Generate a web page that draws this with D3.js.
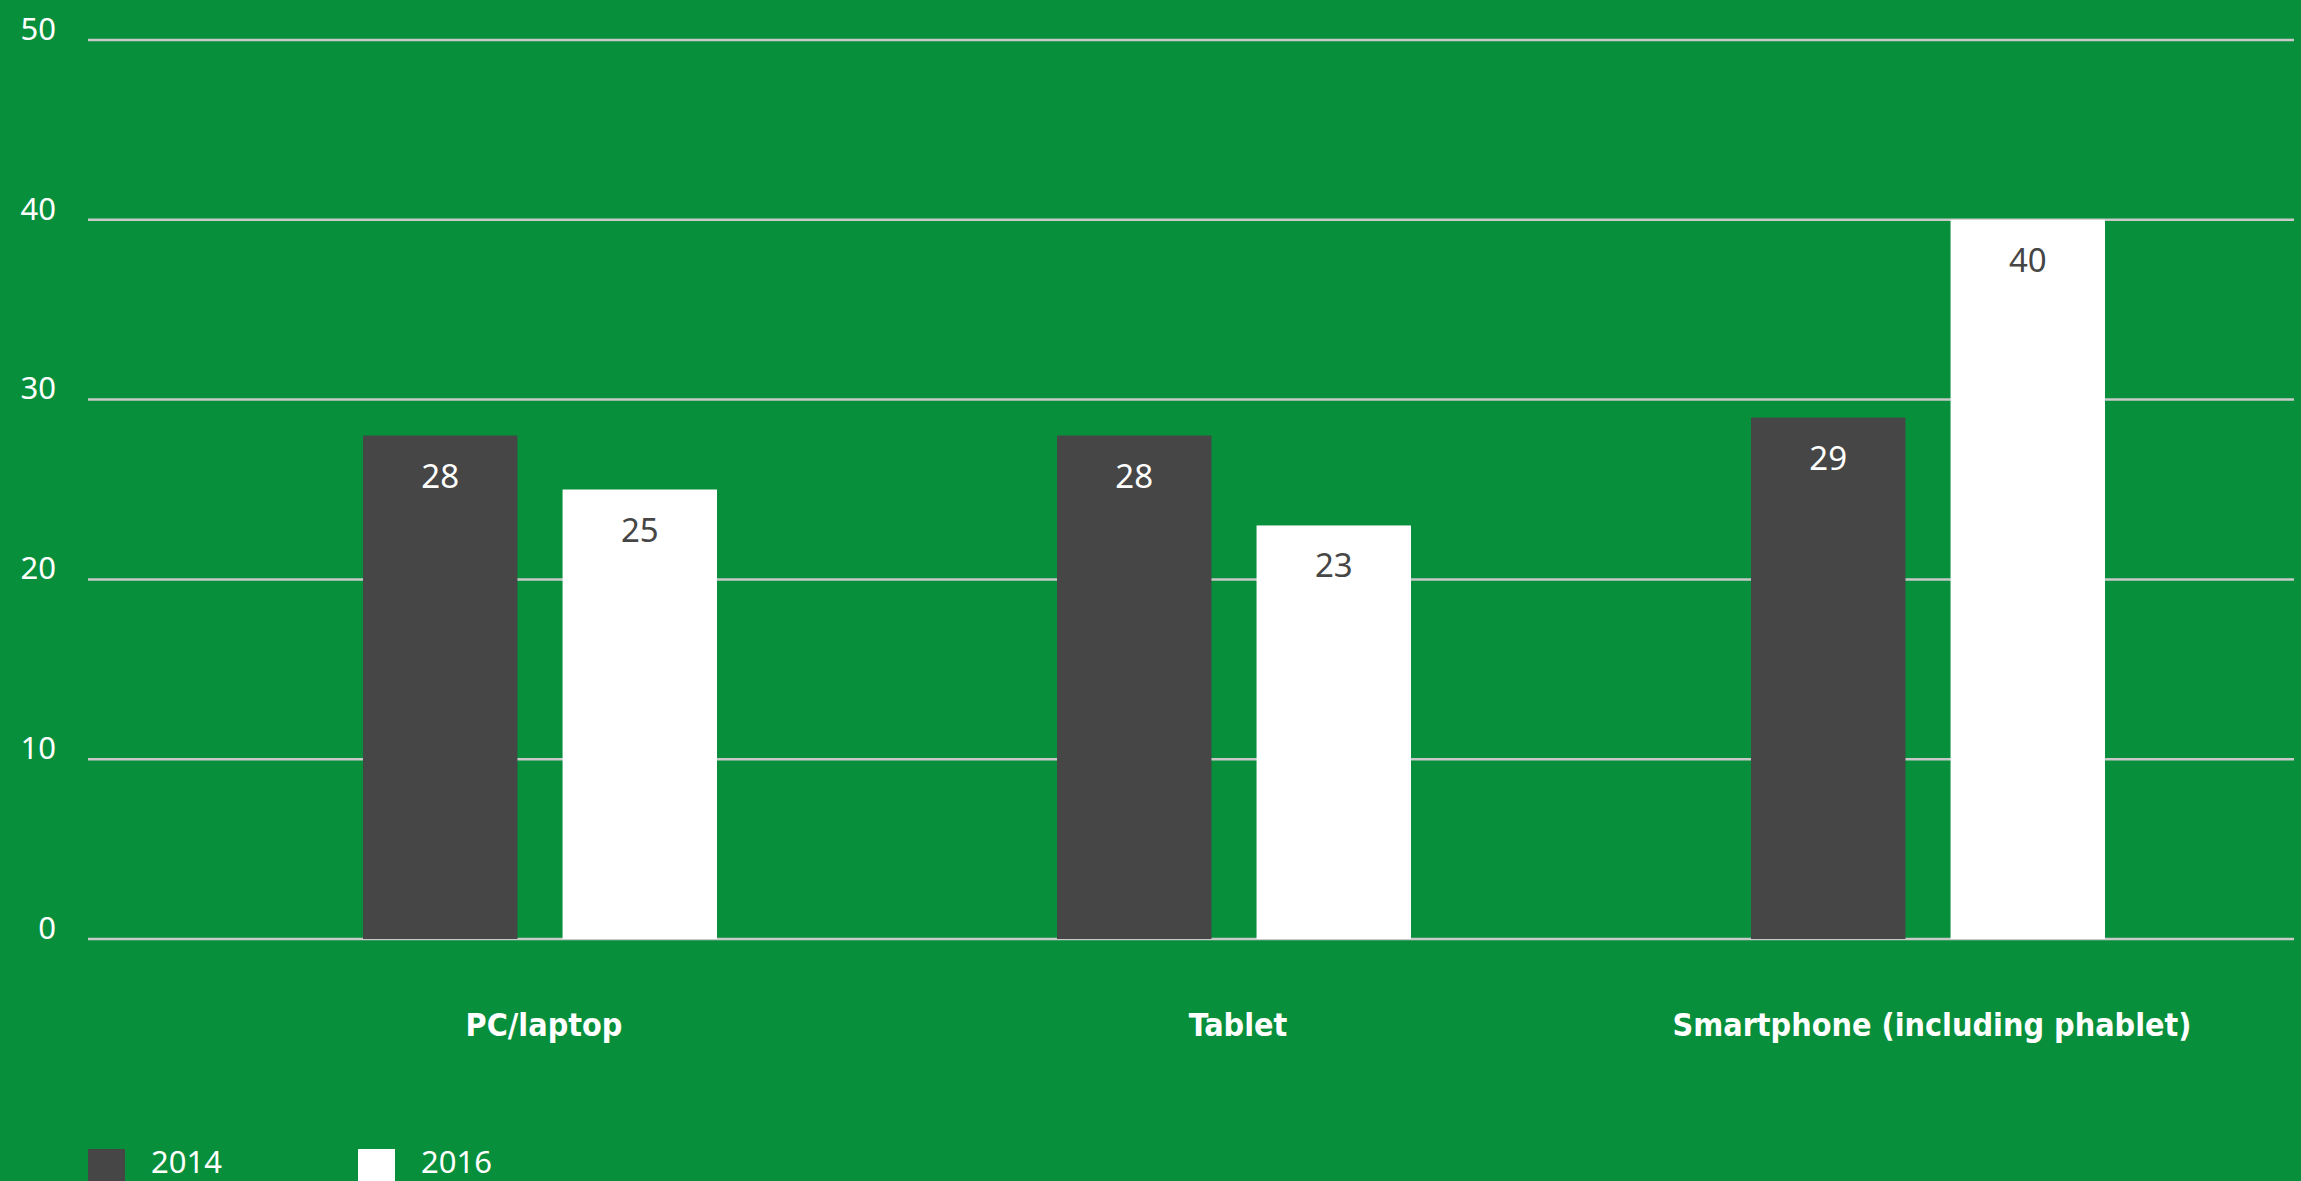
<!DOCTYPE html>
<html>
<head>
<meta charset="utf-8">
<script src="https://cdn.jsdelivr.net/npm/d3@7"></script>
<style>
  html, body { margin: 0; padding: 0; background: #078f3b; overflow: hidden; }
  svg { display: block; }
</style>
</head>
<body>
<svg id="chart" width="2301" height="1181"></svg>
<script>
// Device categories and yearly values
const categories = ["PC/laptop", "Tablet", "Smartphone (including phablet)"];
const years = ["2014", "2016"];
const values2014 = [28, 28, 29];
const values2016 = [25, 23, 40];
const yTicks = [0, 10, 20, 30, 40, 50];

const seriesColors = { "2014": "#464646", "2016": "#ffffff" };
const labelColors = { "2014": "#ffffff", "2016": "#464646" };

const W = 2301, H = 1181;
const svg = d3.select("#chart");

svg.append("rect").attr("width", W).attr("height", H).attr("fill", "#078f3b");

const y = d3.scaleLinear().domain([0, 50]).range([939, 40]);

const x0 = d3.scaleBand().domain(categories).range([193, 2275]).padding(0);
const x1 = d3.scaleBand().domain(years).range([0, 354]).paddingInner(0.226).paddingOuter(0);

// Gridlines
const gridLeft = 88, gridRight = 2294;
svg.append("g").selectAll("line")
  .data(yTicks)
  .join("line")
  .attr("x1", gridLeft).attr("x2", gridRight)
  .attr("y1", d => y(d)).attr("y2", d => y(d))
  .attr("stroke", "#c9c9c9").attr("stroke-width", 2.5);

// Y axis labels
const yAxis = d3.axisLeft(y).tickValues(yTicks).tickSize(0).tickPadding(0);
const yg = svg.append("g").attr("transform", "translate(56,0)").call(yAxis);
yg.select(".domain").remove();
yg.selectAll("text")
  .attr("fill", "#ffffff")
  .attr("font-family", "'Noto Sans', sans-serif")
  .attr("font-size", 31)
  .attr("dy", "-0.02em")
  .attr("dominant-baseline", "alphabetic");

// Bars
const rows = categories.map((c, i) => ({ cat: c, vals: [
  { year: "2014", v: values2014[i] },
  { year: "2016", v: values2016[i] }
]}));

const groups = svg.append("g").selectAll("g")
  .data(rows)
  .join("g")
  .attr("transform", d => `translate(${x0(d.cat) + x0.bandwidth() / 2 - 177},0)`);

groups.selectAll("rect")
  .data(d => d.vals)
  .join("rect")
  .attr("x", d => x1(d.year))
  .attr("width", x1.bandwidth())
  .attr("y", d => y(d.v))
  .attr("height", d => y(0) - y(d.v))
  .attr("fill", d => seriesColors[d.year]);

groups.selectAll("text.value")
  .data(d => d.vals)
  .join("text")
  .attr("class", "value")
  .attr("x", d => x1(d.year) + x1.bandwidth() / 2)
  .attr("y", d => y(d.v) + 52)
  .attr("text-anchor", "middle")
  .attr("fill", d => labelColors[d.year])
  .attr("font-family", "'Noto Sans', sans-serif")
  .attr("font-size", 33)
  .text(d => d.v);

// Category labels
svg.append("g").selectAll("text")
  .data(categories)
  .join("text")
  .attr("x", d => x0(d) + x0.bandwidth() / 2 + 4)
  .attr("y", 1036)
  .attr("text-anchor", "middle")
  .attr("fill", "#ffffff")
  .attr("font-family", "'DejaVu Sans Condensed', 'DejaVu Sans', sans-serif")
  .attr("font-stretch", "condensed")
  .attr("font-weight", "bold")
  .attr("font-size", 32)
  .text(d => d);

// Legend
const legendX = [88, 358];
const lg = svg.append("g").selectAll("g")
  .data(years)
  .join("g")
  .attr("transform", (d, i) => `translate(${legendX[i]},1149)`);
lg.append("rect").attr("width", 37).attr("height", 32).attr("fill", d => seriesColors[d]);
lg.append("text")
  .attr("x", 63).attr("y", 24)
  .attr("fill", "#ffffff")
  .attr("font-family", "'Noto Sans', sans-serif")
  .attr("font-size", 31)
  .text(d => d);
</script>
</body>
</html>
